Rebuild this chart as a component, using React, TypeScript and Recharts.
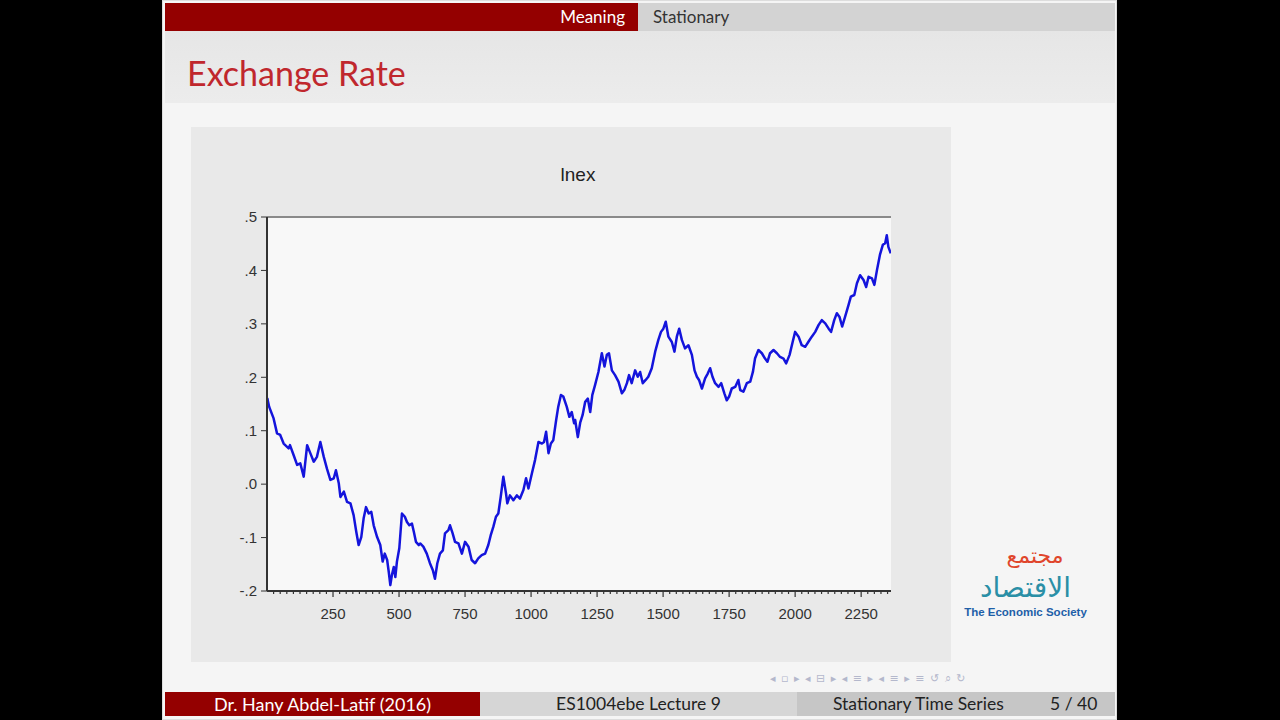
import { LineChart, Line, XAxis, YAxis, CartesianGrid, ReferenceLine } from 'recharts'

// observation number and log exchange rate (lnex)
const obs = [
  1, 8, 25, 38, 50, 63, 82, 87, 101, 114, 126, 139, 152, 164, 177, 189, 202, 215, 227, 240,
  253, 261, 272, 278, 291, 303, 316, 328, 338, 347, 357, 366, 375, 385, 395, 404, 417, 429, 438, 446,
  455, 461, 467, 473, 480, 486, 492, 501, 511, 522, 530, 539, 549, 556, 564, 575, 580, 592, 605, 617,
  628, 636, 645, 655, 666, 674, 687, 693, 703, 712, 725, 738, 750, 763, 775, 788, 800, 813, 826, 838,
  847, 857, 867, 876, 885, 895, 905, 910, 920, 933, 946, 958, 971, 981, 990, 1003, 1015, 1028, 1041, 1049,
  1057, 1066, 1075, 1084, 1095, 1103, 1113, 1122, 1135, 1145, 1154, 1163, 1167, 1177, 1186, 1195, 1205, 1215, 1224, 1232,
  1242, 1255, 1268, 1278, 1287, 1295, 1306, 1318, 1331, 1344, 1353, 1363, 1371, 1381, 1394, 1404, 1413, 1423, 1434, 1444,
  1457, 1470, 1482, 1492, 1501, 1510, 1520, 1533, 1543, 1552, 1561, 1571, 1583, 1596, 1609, 1619, 1628, 1636, 1647, 1659,
  1669, 1678, 1687, 1697, 1710, 1720, 1732, 1741, 1750, 1760, 1773, 1785, 1792, 1804, 1817, 1830, 1840, 1848, 1861, 1874,
  1886, 1895, 1905, 1918, 1931, 1943, 1956, 1966, 1979, 1991, 2000, 2013, 2025, 2038, 2051, 2063, 2076, 2089, 2101, 2114,
  2127, 2136, 2148, 2158, 2168, 2178, 2189, 2202, 2211, 2224, 2234, 2246, 2259, 2269, 2278, 2291, 2300, 2310, 2321, 2332,
  2341, 2347, 2353, 2362,
]

const lnex = [
  0.161, 0.145, 0.123, 0.095, 0.092, 0.076, 0.067, 0.073, 0.054, 0.036, 0.039, 0.014, 0.073, 0.058, 0.042, 0.051, 0.079, 0.051, 0.029, 0.008,
  0.011, 0.026, 0.001, -0.024, -0.014, -0.033, -0.036, -0.058, -0.089, -0.114, -0.099, -0.064, -0.043, -0.055, -0.052, -0.077, -0.099, -0.114, -0.145, -0.13,
  -0.142, -0.164, -0.189, -0.17, -0.155, -0.174, -0.145, -0.12, -0.055, -0.061, -0.071, -0.077, -0.074, -0.089, -0.108, -0.114, -0.111, -0.117, -0.13, -0.148,
  -0.161, -0.177, -0.148, -0.13, -0.124, -0.092, -0.086, -0.077, -0.092, -0.108, -0.111, -0.13, -0.108, -0.117, -0.142, -0.148, -0.139, -0.133, -0.13, -0.114,
  -0.096, -0.08, -0.061, -0.055, -0.024, 0.014, -0.017, -0.036, -0.021, -0.03, -0.021, -0.027, -0.011, 0.011, -0.008, 0.02, 0.045, 0.079, 0.076, 0.079,
  0.098, 0.058, 0.076, 0.082, 0.12, 0.145, 0.167, 0.164, 0.145, 0.126, 0.135, 0.114, 0.12, 0.088, 0.115, 0.129, 0.154, 0.16, 0.135, 0.167,
  0.185, 0.21, 0.245, 0.22, 0.242, 0.245, 0.213, 0.204, 0.192, 0.17, 0.176, 0.189, 0.204, 0.189, 0.213, 0.201, 0.21, 0.189, 0.195, 0.201,
  0.217, 0.248, 0.27, 0.285, 0.291, 0.304, 0.276, 0.266, 0.248, 0.276, 0.291, 0.27, 0.254, 0.26, 0.242, 0.213, 0.201, 0.195, 0.179, 0.198,
  0.207, 0.217, 0.201, 0.189, 0.182, 0.189, 0.17, 0.157, 0.164, 0.179, 0.182, 0.195, 0.176, 0.173, 0.189, 0.192, 0.21, 0.235, 0.251, 0.245,
  0.235, 0.229, 0.245, 0.251, 0.245, 0.238, 0.235, 0.226, 0.242, 0.267, 0.285, 0.276, 0.26, 0.257, 0.267, 0.276, 0.285, 0.298, 0.307, 0.301,
  0.291, 0.285, 0.307, 0.32, 0.313, 0.295, 0.313, 0.335, 0.351, 0.354, 0.376, 0.391, 0.382, 0.369, 0.388, 0.385, 0.373, 0.401, 0.429, 0.448,
  0.451, 0.466, 0.444, 0.432,
]

const yTicks = [-0.2, -0.1, 0, 0.1, 0.2, 0.3, 0.4, 0.5]
const xLabels = [250, 500, 750, 1000, 1250, 1500, 1750, 2000, 2250]

// minor ticks every 25 observations, labelled ones every 250
const xTicks: number[] = []
for (let t = 25; t <= 2350; t += 25) xTicks.push(t)

const data = obs.map((o, i) => ({ obs: o, lnex: lnex[i] }))

const axisFont = '"Liberation Sans", Arial, sans-serif'
const slideFont = 'Lato, "Open Sans", sans-serif'

const fmtY = (v: number) => {
  if (Math.abs(v) < 1e-9) return '.0'
  const d = Math.round(Math.abs(v) * 10)
  return (v < 0 ? '-.' : '.') + d
}

const XTick = (props: any) => {
  const { x, y, payload } = props
  const major = xLabels.includes(payload.value)
  return (
    <g>
      <line x1={x} x2={x} y1={y} y2={y + (major ? 6 : 3)} stroke="#333" strokeWidth={1.2} />
      {major && (
        <text x={x} y={y + 28} textAnchor="middle" fontSize={15} fill="#333" fontFamily={axisFont}>
          {payload.value}
        </text>
      )}
    </g>
  )
}

function LnexChart() {
  return (
    <LineChart
      width={760}
      height={535}
      data={data}
      margin={{ top: 90, right: 60, bottom: 41, left: 36 }}
    >
      <CartesianGrid horizontal={false} vertical={false} fill="#f8f8f8" />
      <ReferenceLine y={0.5} stroke="#8a8a8a" strokeWidth={2} ifOverflow="extendDomain" />
      <XAxis
        dataKey="obs"
        type="number"
        domain={[0, 2363]}
        ticks={xTicks}
        interval={0}
        tick={<XTick />}
        tickLine={false}
        tickSize={0}
        tickMargin={0}
        height={30}
        axisLine={{ stroke: '#333', strokeWidth: 2 }}
        allowDataOverflow
      />
      <YAxis
        type="number"
        domain={[-0.2, 0.5]}
        ticks={yTicks}
        tickFormatter={fmtY}
        width={40}
        tickSize={6}
        tickMargin={4}
        tick={{ fontSize: 15, fill: '#333', fontFamily: axisFont }}
        tickLine={{ stroke: '#333' }}
        axisLine={{ stroke: '#333', strokeWidth: 2 }}
        allowDataOverflow
      />
      <Line
        type="linear"
        dataKey="lnex"
        stroke="#1414dc"
        strokeWidth={2.5}
        strokeLinejoin="round"
        dot={false}
        isAnimationActive={false}
      />
    </LineChart>
  )
}

const abs = (left: number, top: number, extra: any = {}) => ({ position: 'absolute' as const, left, top, ...extra })

export default function App() {
  return (
    <div style={abs(0, 0, { width: 1280, height: 720, background: '#000', overflow: 'hidden', fontFamily: slideFont })}>
      {/* slide */}
      <div style={abs(162, 0, { width: 955, height: 720, background: '#f5f5f5', border: '1px solid #ddd', boxSizing: 'border-box' })} />

      {/* header navigation bar */}
      <div style={abs(165, 3, { width: 473, height: 28, background: '#940000' })} />
      <div style={abs(638, 3, { width: 477, height: 28, background: '#d3d3d3' })} />
      <div style={abs(500, 3, { width: 125, height: 28, lineHeight: '28px', color: '#fff', fontSize: 17, textAlign: 'right' })}>Meaning</div>
      <div style={abs(653, 3, { height: 28, lineHeight: '28px', color: '#333', fontSize: 17 })}>Stationary</div>

      {/* frame title */}
      <div style={abs(165, 31, { width: 950, height: 72, background: 'linear-gradient(#e6e6e6, #ececec)' })} />
      <div style={abs(187, 52, { color: '#c0272d', fontSize: 34, lineHeight: '42px' })}>Exchange Rate</div>

      {/* chart panel */}
      <div style={abs(191, 127, { width: 760, height: 535, background: '#e9e9e9' })}>
        <div style={abs(0, 161 - 127, { width: 774, textAlign: 'center', fontFamily: axisFont, fontSize: 19, color: '#222', lineHeight: '28px' })}>lnex</div>
        <div style={abs(0, 0)}>
          <LnexChart />
        </div>
      </div>

      {/* society logo */}
      <div style={abs(1000, 542, { width: 70, height: 28, overflow: 'hidden', textAlign: 'center', fontFamily: '"DejaVu Sans", sans-serif', fontSize: 22, lineHeight: '28px', color: '#e0452b', direction: 'rtl' })}>
        مجتمع
      </div>
      <div style={abs(958, 572, { width: 135, height: 32, overflow: 'hidden', textAlign: 'center', fontFamily: '"DejaVu Sans", sans-serif', fontSize: 28, lineHeight: '32px', color: '#2a8fa6', direction: 'rtl' })}>
        الاقتصاد
      </div>
      <div style={abs(958, 605, { width: 135, height: 14, textAlign: 'center', fontFamily: axisFont, fontWeight: 700, fontSize: 11.5, lineHeight: '14px', color: '#1f5fa8' })}>
        The Economic Society
      </div>

      {/* beamer navigation symbols */}
      <div style={abs(770, 670, { fontSize: 11, color: '#b4b8cc', letterSpacing: 1, lineHeight: '18px', fontFamily: '"DejaVu Sans", sans-serif' })}>
        ◂ ▫ ▸  ◂ ⊟ ▸  ◂ ≡ ▸  ◂ ≡ ▸   ≡   ↺ ⌕ ↻
      </div>

      {/* footline */}
      <div style={abs(165, 692, { width: 315, height: 24, background: '#940000', color: '#fff', fontSize: 18, lineHeight: '24px', textAlign: 'center' })}>
        Dr. Hany Abdel-Latif (2016)
      </div>
      <div style={abs(480, 692, { width: 317, height: 24, background: '#d6d6d6', color: '#222', fontSize: 17.5, lineHeight: '24px', textAlign: 'center' })}>
        ES1004ebe Lecture 9
      </div>
      <div style={abs(797, 692, { width: 318, height: 24, background: '#c6c6c6', color: '#222', fontSize: 17.5, lineHeight: '24px' })}>
        <span style={abs(36, 0)}>Stationary Time Series</span>
        <span style={abs(253, 0)}>5 / 40</span>
      </div>
    </div>
  )
}
